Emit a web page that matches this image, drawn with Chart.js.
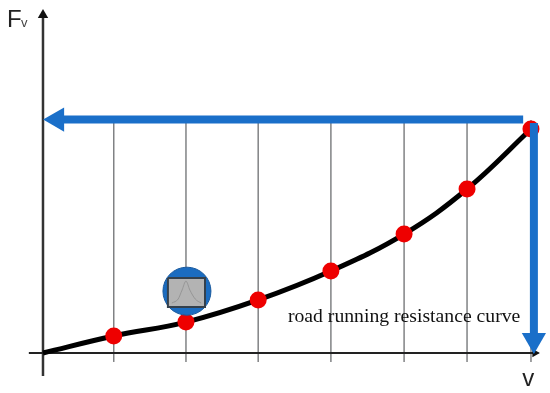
<!DOCTYPE html>
<html>
<head>
<meta charset="utf-8">
<style>
  html, body { margin: 0; padding: 0; background: #fff; }
  canvas { display: block; }
</style>
<script src="https://cdn.jsdelivr.net/npm/chart.js@4"></script>
</head>
<body>
<canvas id="chart" width="550" height="393"></canvas>
<script>
// values are percent of the end point (speed on x, force on y)
const curveX = [0, 14.5, 29.3, 44.1, 59, 74, 86.9, 100];
const curveY = [0, 7.6, 13.8, 23.7, 36.6, 53.1, 73.2, 100];
const pointX = [14.5, 29.3, 44.1, 59, 74, 86.9, 100];
const pointY = [7.6, 13.8, 23.7, 36.6, 53.1, 73.2, 100];
const stemTop = 104;
const stemBottom = -4;

const peakX = [26.4, 27.7, 28.5, 29.3, 30.1, 31.2, 32.4];
const peakY = [22.3, 24.1, 28.1, 32.1, 28.1, 24.1, 22.3];
const boxX = [25.6, 33.2, 33.2, 25.6, 25.6];
const boxY = [33.5, 33.5, 20.5, 20.5, 33.5];

const xLabel = "v";
const yLabel = "F";
const yLabelSub = "v";
const curveLabel = "road running resistance curve";

function toPoints(xs, ys) {
  return xs.map((x, i) => ({ x: x, y: ys[i] }));
}

function line(xs, ys, color, width, order) {
  return {
    data: toPoints(xs, ys),
    showLine: true,
    borderColor: color,
    borderWidth: width,
    pointRadius: 0,
    order: order
  };
}

function marker(x, y, color, radius, style, rotation, order) {
  return {
    data: [{ x: x, y: y }],
    showLine: false,
    pointStyle: style,
    rotation: rotation,
    pointRadius: radius,
    pointBackgroundColor: color,
    pointBorderColor: color,
    pointBorderWidth: 0,
    order: order
  };
}

const datasets = [];

// thin grey stems
pointX.forEach((x) => {
  datasets.push(line([x, x], [stemBottom, stemTop], "#808284", 1.5, 10));
});

// axes
datasets.push(line([-2.9, 101.5], [0, 0], "#222222", 2, 9));
datasets.push(line([0, 0], [-10.3, 150], "#333333", 2.5, 9));
datasets.push(marker(0, 150.9, "#111111", 6, "triangle", 0, 8));
datasets.push(marker(100.8, 0, "#111111", 5, "triangle", 90, 8));

// resistance curve
const curve = line(curveX, curveY, "#000000", 5, 7);
curve.tension = 0.4;
datasets.push(curve);

// red markers
datasets.push({
  data: toPoints(pointX, pointY),
  showLine: false,
  pointRadius: 8.5,
  pointBackgroundColor: "#ee0000",
  pointBorderWidth: 0,
  order: 6
});

// small spectrum icon
const disc = marker(29.5, 27.6, "#1b6cc0", 24, "circle", 0, 5);
disc.pointBorderColor = "#1a5a9e";
disc.pointBorderWidth = 1;
datasets.push(disc);
const box = line(boxX, boxY, "#34404c", 2, 4);
box.fill = "shape";
box.backgroundColor = "#b3b3b3";
datasets.push(box);
const peak = line(peakX, peakY, "#969696", 1, 3);
peak.cubicInterpolationMode = "monotone";
datasets.push(peak);

// blue arrows
datasets.push(line([2.9, 98.4], [104.2, 104.2], "#1a6fc9", 8, 2));
datasets.push(line([100.6, 100.6], [5.8, 102.7], "#1a6fc9", 8, 2));
datasets.push(marker(2.9, 104.2, "#1a6fc9", 14, "triangle", -90, 1));
datasets.push(marker(100.6, 5.8, "#1a6fc9", 14, "triangle", 180, 1));

const textLabels = {
  id: "textLabels",
  afterDatasetsDraw(chart) {
    const { ctx, scales } = chart;
    const put = (text, x, y, font, color) => {
      ctx.font = font;
      ctx.fillStyle = color;
      ctx.fillText(text, scales.x.getPixelForValue(x), scales.y.getPixelForValue(y));
    };
    ctx.save();
    ctx.textBaseline = "alphabetic";
    put(yLabel, -7.4, 145.5, "24px 'Liberation Sans'", "#222222");
    put(yLabelSub, -4.5, 145.5, "13px 'Liberation Sans'", "#444444");
    put(xLabel, 98.2, -14.7, "24px 'Liberation Sans'", "#222222");
    put(curveLabel, 50.2, 13.8, "19.7px 'Liberation Serif'", "#111111");
    ctx.restore();
  }
};

new Chart(document.getElementById("chart").getContext("2d"), {
  type: "scatter",
  data: { datasets: datasets },
  options: {
    responsive: false,
    animation: false,
    layout: { padding: 0, autoPadding: false },
    plugins: { legend: { display: false }, tooltip: { enabled: false } },
    scales: {
      x: { type: "linear", display: false, min: -8.81, max: 103.9 },
      y: { type: "linear", display: false, min: -17.86, max: 157.6 }
    }
  },
  plugins: [textLabels]
});
</script>
</body>
</html>
